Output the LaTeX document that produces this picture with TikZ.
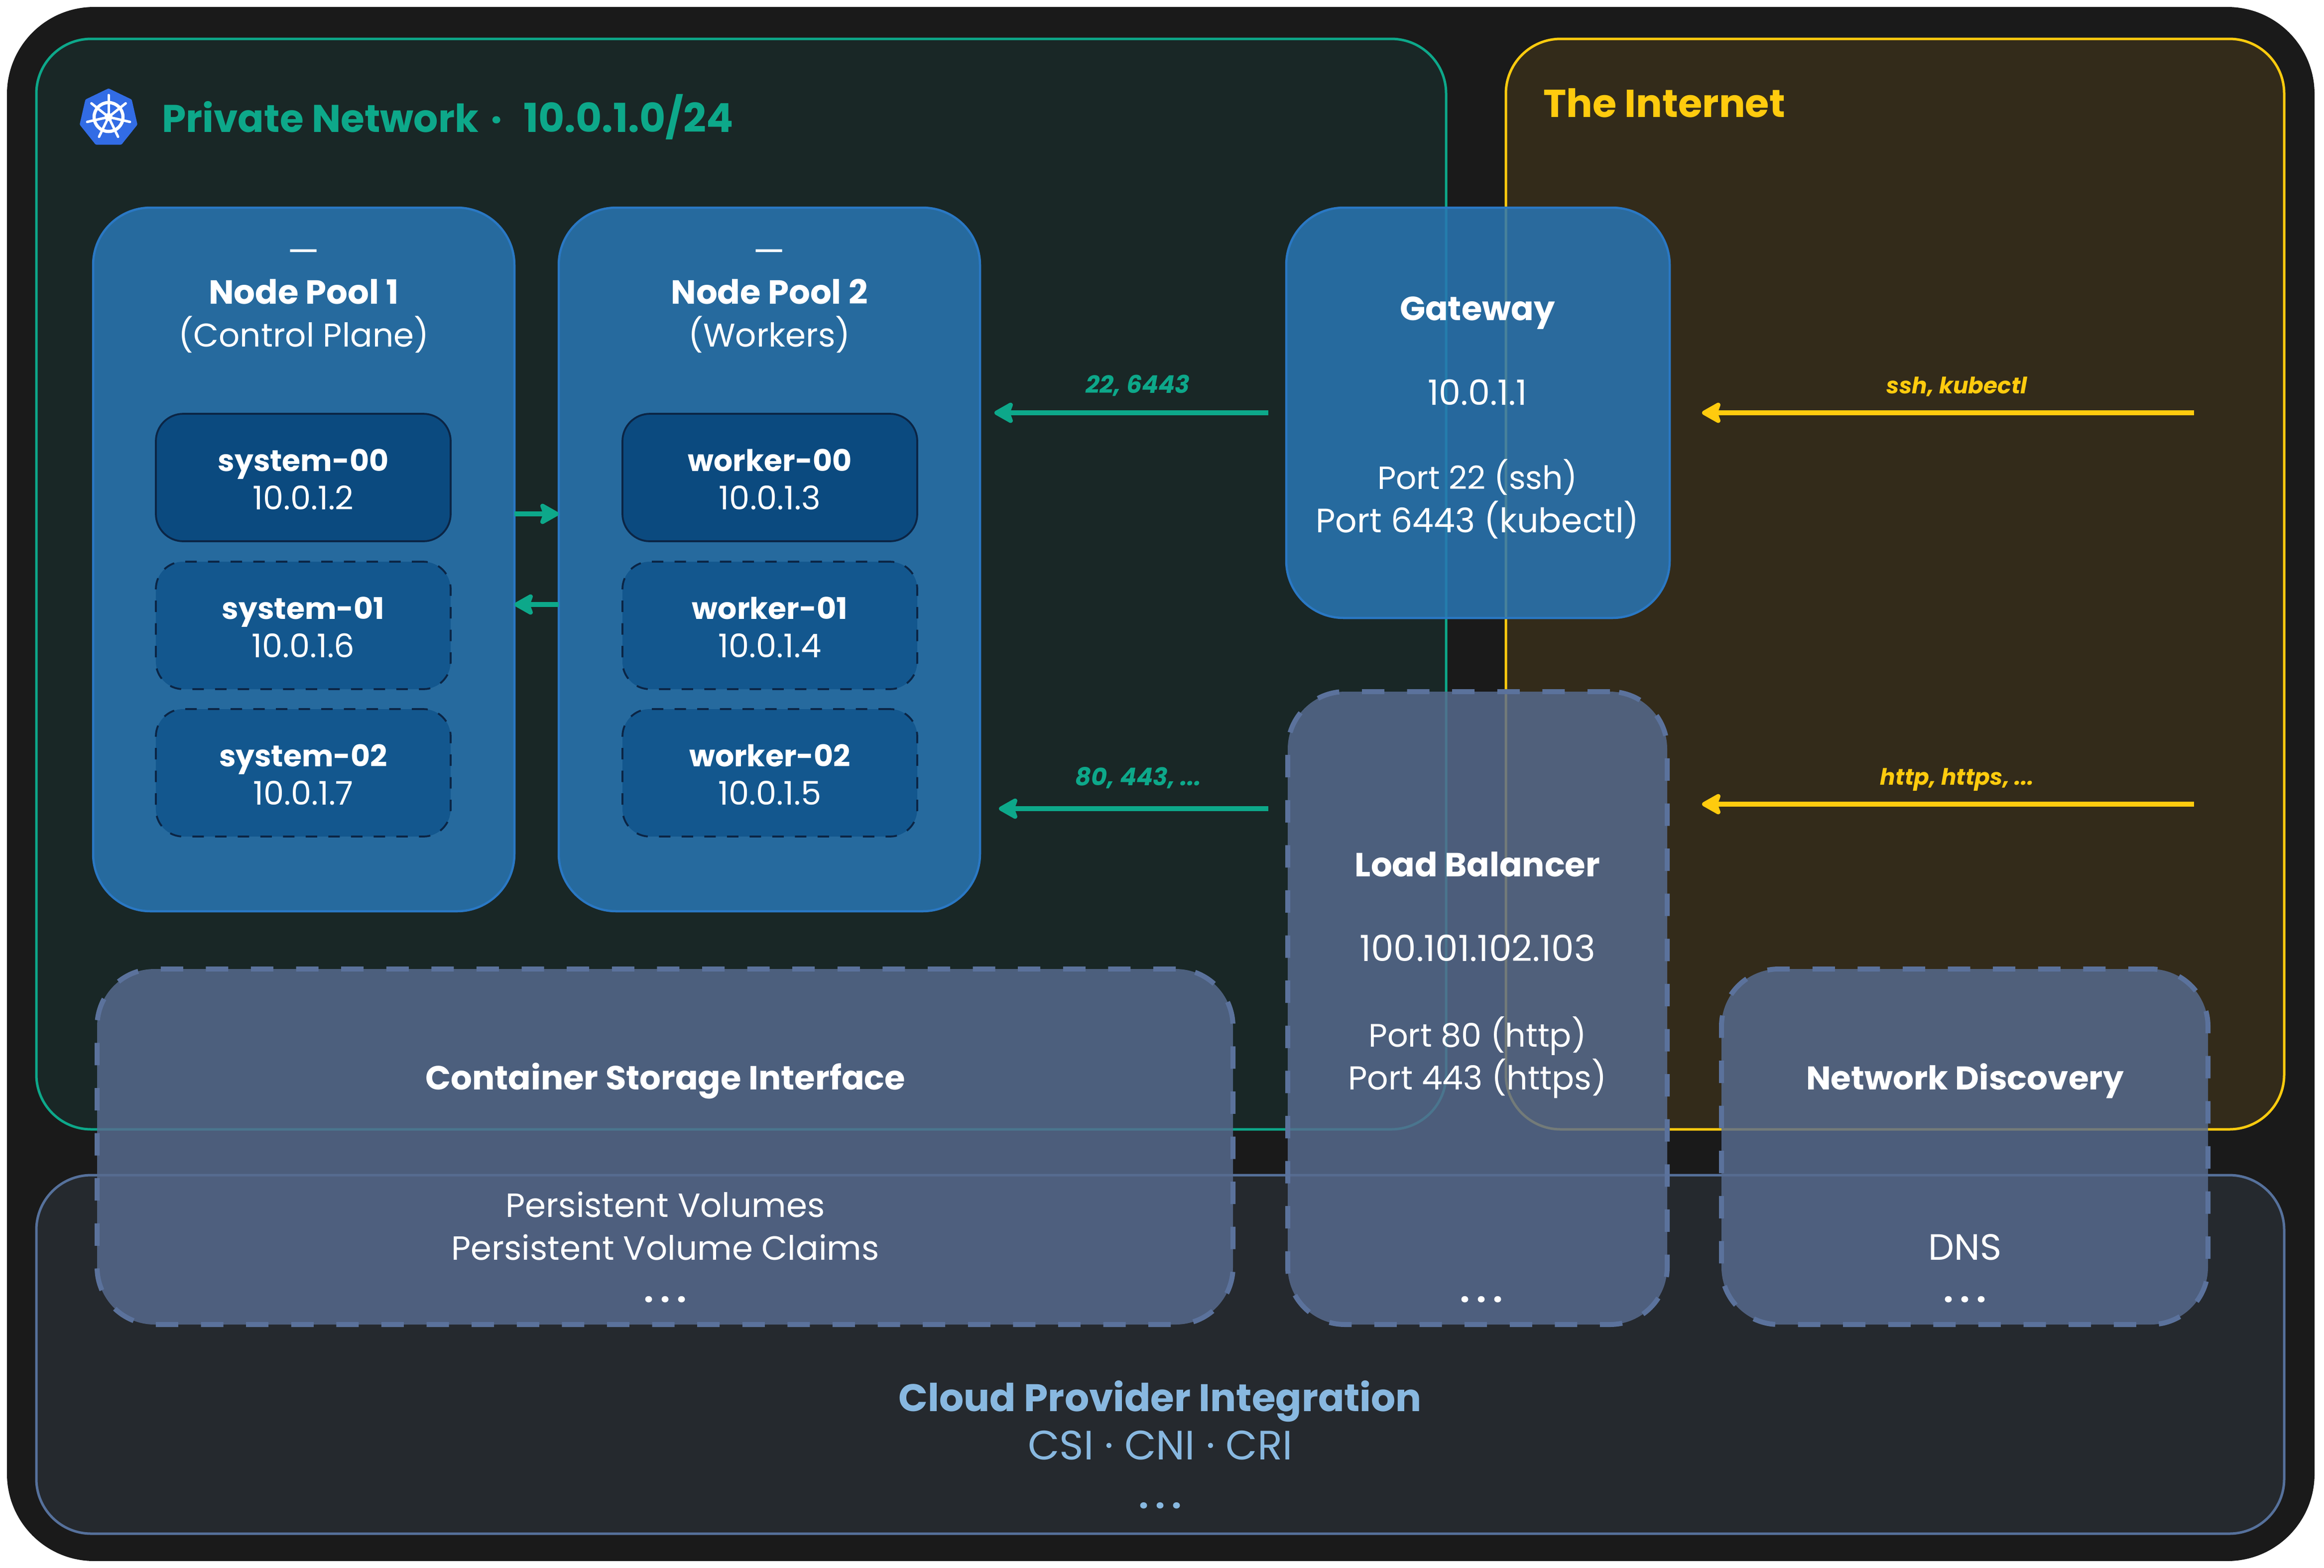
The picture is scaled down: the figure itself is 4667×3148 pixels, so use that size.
\documentclass[tikz,border=0pt]{standalone}
\usepackage{fontspec}
\setmainfont{Poppins}
\usetikzlibrary{arrows.meta}
\definecolor{outerbg}{HTML}{1A1A1A}
\definecolor{privbg}{HTML}{192726}
\definecolor{netbg}{HTML}{332B1A}
\definecolor{cloudbg}{HTML}{25292E}
\definecolor{green1}{HTML}{0DA88A}
\definecolor{yellow1}{HTML}{FFCB0E}
\definecolor{cloudline}{HTML}{56719C}
\definecolor{cloudtext}{HTML}{88B8E0}
\definecolor{poolfill}{HTML}{2976B4}
\definecolor{poolline}{HTML}{2A78C4}
\definecolor{nodefill}{HTML}{0B4A7F}
\definecolor{nodefillb}{HTML}{13578E}
\definecolor{nodeline}{HTML}{0B2545}
\definecolor{extfill}{HTML}{576B8F}
\definecolor{extline}{HTML}{5B729C}
\definecolor{kblue}{HTML}{326CE5}
\newcommand{\regionbox}[6]{\node[#1,inner sep=0pt,outer sep=0pt,minimum width={(#5-#3)*0.2pt},minimum height={(#6-#4)*0.2pt}] (#2) at ({(#3+#5)/2},{(#4+#6)/2}) {};}
\newcommand{\spaceddots}{\textbf{.\kern2.8pt.\kern2.8pt.}}
\newcommand{\vmlabel}[2]{{\fontsize{12}{15.4}\selectfont\bfseries\rule{0pt}{10.6pt}#1}\\{\fontsize{13.1}{15.4}\selectfont #2}}
\tikzset{
  x=0.2pt,y=-0.2pt,
  region/.style={rounded corners=22pt,line width=1pt},
  privreg/.style={region,fill=privbg,draw=green1},
  netreg/.style={region,fill=netbg,draw=yellow1},
  cloudreg/.style={region,fill=cloudbg,draw=cloudline},
  poolbox/.style={rounded corners=23pt,line width=.9pt,fill=poolfill,fill opacity=.85,draw=poolline},
  extbox/.style={rounded corners=23pt,line width=2pt,fill=extfill,fill opacity=.83,draw=extline,dash pattern=on 9pt off 9.12pt},
  vmsolid/.style={rounded corners=11pt,line width=.75pt,fill=nodefill,draw=nodeline,minimum width=118.4pt,minimum height=51.2pt,text=white,align=center,inner sep=0pt,font=\fontsize{13.1}{15.4}\selectfont},
  vmdash/.style={vmsolid,fill=nodefillb,dash pattern=on 4.6pt off 4.5pt},
  txt/.style={text=white,inner sep=0pt,yshift=-1.6pt,text height=.72em,text depth=0pt,font=\fontsize{13.5}{16}\selectfont},
  sized/.style={txt,font=\fontsize{#1}{16}\selectfont},
  btxt/.style={txt,font=\fontsize{13.45}{16}\selectfont\bfseries},
  titletxt/.style={anchor=west,inner sep=0pt,text height=.72em,text depth=0pt,font=\fontsize{15.5}{19}\selectfont\bfseries},
  lbl/.style={inner sep=0pt,text height=.72em,text depth=0pt,font=\fontsize{9.1}{11}\selectfont\bfseries\itshape},
  lblg/.style={lbl,font=\fontsize{9.8}{11}\selectfont\bfseries\itshape},
  harrow/.style={line width=2.1pt,-{Stealth[length=9pt,width=10pt,inset=1.8pt,round]}},
  garrow/.style={harrow,draw=green1,color=green1},
  yarrow/.style={harrow,draw=yellow1,color=yellow1},
}
\begin{document}
\begin{tikzpicture}
\useasboundingbox (0,0) rectangle (4667,3148);
\fill[white] (0,0) rectangle (4667,3148);
\regionbox{fill=outerbg,rounded corners=35pt}{outer}{14}{14}{4648}{3135}
\regionbox{privreg}{private}{73}{78}{2904}{2268}
\regionbox{netreg}{internet}{3024}{78}{4587}{2268}
\regionbox{cloudreg}{cloud}{73}{2360}{4587}{3080}
% kubernetes icon
\fill[kblue,draw=kblue,line width=2pt,line join=round] plot[samples at={90,141.43,192.86,244.29,295.71,347.14,398.57}] ({218+54*cos(\x)},{237-54*sin(\x)}) -- cycle;
\draw[white,line width=1.3pt] (218,235) circle[radius=29];
\foreach \a in {90,141.43,192.86,244.29,295.71,347.14,398.57}
  \draw[white,line width=1pt,line cap=round] (218,235) -- ({218+44*cos(\a)},{235-44*sin(\a)});
\fill[white] (218,235) circle[radius=8];
\node[titletxt,text=green1] (privtitle) at (324,247) {Private Network\kern.1em\ ·\ \kern.34em{\fontsize{16.05}{19}\selectfont 10.0.1.0/24}};
\node[titletxt,text=yellow1,font=\fontsize{15.65}{19}\selectfont\bfseries] (nettitle) at (3098,217) {The Internet};
% pools
\regionbox{poolbox}{pool1}{187}{417}{1033}{1830}
\regionbox{poolbox}{pool2}{1122}{417}{1968}{1830}
\node[sized=14.5] (pool1dash) at (610,504) {—};
\node[btxt] (pool1a) at (610,584) {Node Pool 1};
\node[sized=13.2] (pool1b) at (610,670) {(Control Plane)};
\node[sized=14.5] (pool2dash) at (1545,504) {—};
\node[btxt] (pool2a) at (1545,584) {Node Pool 2};
\node[sized=13.2] (pool2b) at (1545,670) {(Workers)};
\node[vmsolid] (s0) at (609,959) {\vmlabel{system-00}{10.0.1.2}};
\node[vmdash] (s1) at (609,1256) {\vmlabel{system-01}{10.0.1.6}};
\node[vmdash] (s2) at (609,1552) {\vmlabel{system-02}{10.0.1.7}};
\node[vmsolid] (w0) at (1546,959) {\vmlabel{worker-00}{10.0.1.3}};
\node[vmdash] (w1) at (1546,1256) {\vmlabel{worker-01}{10.0.1.4}};
\node[vmdash] (w2) at (1546,1552) {\vmlabel{worker-02}{10.0.1.5}};
\coordinate (ua) at (0,1032);
\coordinate (ub) at (0,1214);
\draw[garrow] (pool1.east |- ua) -- (pool2.west |- ua);
\draw[garrow] (pool2.west |- ub) -- (pool1.east |- ub);
% gateway
\regionbox{poolbox}{gateway}{2583}{417}{3353}{1241}
\node[btxt] (gw1) at (2967,617) {Gateway};
\node[sized=14] (gw2) at (2967,787) {10.0.1.1};
\node[sized=12.9] (gw3) at (2967,956) {Port 22 (ssh)};
\node[sized=13.6] (gw4) at (2967,1043) {Port 6443 (kubectl)};
% external boxes
\regionbox{extbox}{csi}{195}{1946}{2476}{2660}
\regionbox{extbox}{lb}{2586}{1389}{3348}{2660}
\regionbox{extbox}{nd}{3457}{1946}{4434}{2660}
\node[btxt] (csi1) at (1336,2162) {Container Storage Interface};
\node[txt] (csi2) at (1336,2418) {Persistent Volumes};
\node[txt] (csi3) at (1336,2504) {Persistent Volume Claims};
\node[txt] (csi4) at (1336,2589) {\spaceddots};
\node[btxt] (lb1) at (2967,1734) {Load Balancer};
\node[sized=14.5] (lb2) at (2967,1904) {100.101.102.103};
\node[sized=13.05] (lb3) at (2967,2076) {Port 80 (http)};
\node[sized=13.3] (lb4) at (2967,2162) {Port 443 (https)};
\node[txt] (lb5) at (2975,2589) {\spaceddots};
\node[btxt,font=\fontsize{13.2}{16}\selectfont\bfseries] (nd1) at (3946,2162) {Network Discovery};
\node[sized=14.7] (nd2) at (3946,2504) {DNS};
\node[txt] (nd3) at (3946,2589) {\spaceddots};
% cloud text
\node[txt,text=cloudtext,font=\fontsize{15.45}{18}\selectfont\bfseries] (cl1) at (2330,2808) {Cloud Provider Integration};
\node[txt,text=cloudtext,font=\fontsize{16.5}{18}\selectfont] (cl2) at (2330,2905) {CSI · CNI · CRI};
\node[txt,text=cloudtext] (cl3) at (2330,3003) {\spaceddots};
% traffic arrows
\coordinate (ga1) at (2547,829);
\coordinate (ga2) at (1997,829);
\coordinate (gb1) at (2547,1624);
\coordinate (gb2) at (2006,1624);
\coordinate (ya1) at (4406,829);
\coordinate (ya2) at (3418,829);
\coordinate (yb1) at (4406,1615);
\coordinate (yb2) at (3418,1615);
\draw[garrow] (ga1) -- (ga2);
\draw[garrow] (gb1) -- (gb2);
\draw[yarrow] (ya1) -- (ya2);
\draw[yarrow] (yb1) -- (yb2);
\node[lblg,text=green1] (la) at (2285,771) {22, 6443};
\node[lblg,text=green1] (lbb) at (2286,1559) {80, 443, ...};
\node[lbl,text=yellow1] (lc) at (3930,772) {ssh, kubectl};
\node[lbl,text=yellow1] (ld) at (3930,1558) {http, https, ...};
\end{tikzpicture}
\end{document}
